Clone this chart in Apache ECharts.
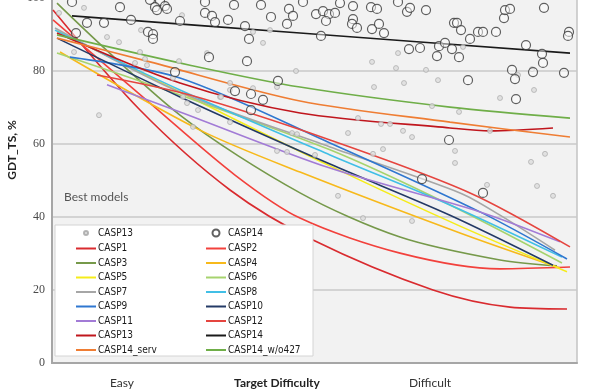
<!DOCTYPE html>
<html><head><meta charset="utf-8">
<script src="https://cdn.jsdelivr.net/npm/echarts@6/dist/echarts.min.js"></script>
<style>html,body{margin:0;padding:0;background:#fff}#c{width:600px;height:390px}</style>
</head><body><div id="c"></div>
<script>
// Y ticks
const yTicks = [0, 20, 40, 60, 80, 100];
// x: target difficulty (0 = easy, 105 = difficult); y: GDT_TS %
const casp13Pts = [[1.4,95.9],[6.4,97.3],[11,89.3],[13.4,87.9],[4.4,85.2],[9.4,67.9],[17.8,91.2],[17.6,85.2],[18.6,83.3],[19,81.6],[16.6,82.2],[26,95.3],[25.4,82.7],[24.2,78.1],[27,71.2],[31,84.9],[33.6,72.9],[35.6,76.7],[35.6,74.8],[35.6,66.0],[40.2,90.7],[40.2,75.3],[42.2,87.7],[43.6,91.2],[47,57.8],[48.8,80.0],[48,63.0],[28.2,64.7],[64,82.5],[68.8,80.8],[69.2,84.9],[70.4,76.7],[64.4,75.6],[74.8,80.3],[77.2,77.5],[76,70.4],[81.4,68.8],[82.2,86.6],[61.2,67.1],[59.2,63.0],[65.8,65.5],[67.6,65.5],[70.2,63.6],[72,61.9],[66.2,58.6],[80.6,58.1],[80.6,54.8],[52.6,57.0],[57.2,45.8],[87,48.8],[89.6,72.6],[87.6,63.6],[93.2,78.9],[96.4,74.8],[96,80.5],[95.8,55.1],[98.6,57.3],[97,48.5],[100.2,45.8],[62.2,39.7],[72,38.9],[26.2,72.9],[29.2,69.3],[33.8,72.9],[45,75.6],[45,58.1],[49,62.7],[64.2,57.3]];
const casp14Pts = [[4,98.9],[13.6,97.5],[7,93.2],[10.4,93.2],[4.8,90.4],[15.8,94.0],[19.2,90.7],[20.2,90.1],[20.2,88.8],[19.6,99.5],[21.6,99.2],[20.6,97.5],[21,96.7],[22.6,97.8],[23,97.0],[25.6,93.7],[30.6,98.9],[30.6,95.9],[32,95.1],[32.6,93.4],[31.4,83.8],[35.2,94.0],[36.4,98.1],[38.6,92.3],[39.4,88.8],[39,82.7],[41.8,98.1],[43.8,94.8],[47,92.9],[47.4,97.0],[48.2,95.1],[24.6,79.7],[36.6,74.5],[39.8,73.7],[39.8,69.3],[42.2,72.1],[45.2,77.3],[50.2,98.9],[52.8,95.6],[54.2,96.4],[55.4,95.6],[56.6,95.9],[54.8,93.7],[57.6,98.6],[60.2,97.8],[60.2,94.2],[60,92.9],[61,91.8],[64,91.5],[63.8,97.5],[65,97.0],[65.4,92.9],[66.4,90.4],[69.2,98.9],[71,96.2],[71.6,97.3],[74.8,96.7],[53.8,89.6],[71.4,86.0],[73.6,86.3],[77,84.1],[77.4,86.8],[78.6,87.7],[80,86.0],[81.4,83.8],[80.4,93.2],[81,93.2],[81.8,91.2],[83.6,88.8],[85.2,90.7],[86.2,90.7],[88.8,90.7],[90.4,94.5],[90.6,96.7],[91.6,97.0],[98.4,97.3],[94.8,87.1],[98,84.7],[98.2,82.2],[92,80.3],[92.6,77.8],[96.2,79.7],[102.4,79.5],[83.2,77.5],[92.8,72.3],[79.4,61.1],[103.4,90.7],[103.2,89.6],[74,50.4],[86.2,46.6]];

const casp1 = [[0.2,96.7],[17.6,69.3],[35.6,47.4],[52.2,33.7],[76.2,20.0],[91.6,15.3],[103,14.8]];
const casp2 = [[0.2,94.0],[19.6,71.2],[36.6,51.5],[49.6,39.7],[69.6,30.1],[89.6,25.8],[103.6,26.3]];
const casp3 = [[1,98.6],[25.6,67.9],[49.6,46.6],[69.6,34.5],[89.6,28.2],[101,26.6]];
const casp4 = [[1.6,85.2],[29.6,63.8],[49.6,52.3],[81.6,35.6],[101.6,26.0]];
const casp5 = [[1,91],[29.6,71.5],[55.6,54],[81.6,37.5],[103,25]];
const casp6 = [[1,84.9],[25.6,73.4],[55.6,58.4],[79.6,43.3],[102,27.4]];
const casp7 = [[0.6,91.8],[25.6,74.2],[55.6,59.2],[81.6,46.6],[89.6,40.5],[100.6,30.9]];
const casp8 = [[0.6,91.2],[25.6,74.8],[55.6,57.0],[79.6,43.3],[102,29.0]];
const casp9 = [[3.6,83.8],[25.6,78.1],[55.6,60.3],[85.6,41.4],[103,28.5]];
const casp10 = [[1,89.0],[25.6,72.9],[55.6,54.5],[79.6,40.5],[100.2,26.8]];
const casp11 = [[11,76.2],[25.6,68.8],[55.6,53.4],[85.6,41.4],[101.6,33.2]];
const casp12 = [[9,78.9],[27.6,73.4],[55.6,61.1],[83.6,46.6],[103.6,31.8]];
const casp13 = [[1,90.4],[25.6,76.7],[49.6,68.5],[79.6,64.4],[87.6,63.6],[100.2,64.4]];
const casp14 = [[4,95.1],[49.6,90.4],[103.6,84.9]];
const casp14serv = [[1,89.0],[19.6,82.5],[49.6,71.8],[79.6,66.0],[103.6,61.9]];
const casp14wo = [[1,89.9],[27.6,81.6],[49.6,75.6],[79.6,70.1],[103.6,67.1]];

const lineNames = ['CASP1','CASP2','CASP3','CASP4','CASP5','CASP6','CASP7','CASP8','CASP9','CASP10','CASP11','CASP12','CASP13 ','CASP14 ','CASP14_serv','CASP14_w/o427'];
const lineData = [casp1,casp2,casp3,casp4,casp5,casp6,casp7,casp8,casp9,casp10,casp11,casp12,casp13,casp14,casp14serv,casp14wo];
const lineColors = ['#d92b2f','#f2413c','#76994a','#f7b91b','#f5ec1a','#a6d36e','#a6a6a6','#41bfe6','#2f77d0','#243a66','#a27bd6','#e5453f','#c0161d','#1a1a1a','#ef7d33','#6fae48'];

const legendLeft = ['CASP13','CASP1','CASP3','CASP5','CASP7','CASP9','CASP11','CASP13 ','CASP14_serv'];
const legendRight = ['CASP14','CASP2','CASP4','CASP6','CASP8','CASP10','CASP12','CASP14 ','CASP14_w/o427'];

const dotIcon = 'path://M0,0M20,10M12,5A2,2,0,1,1,8,5A2,2,0,1,1,12,5Z';
const ringIcon = 'path://M0,0M20,10M13.5,5A3.5,3.5,0,1,1,6.5,5A3.5,3.5,0,1,1,13.5,5Z';
const hiddenSym = {color:'rgba(0,0,0,0)', borderColor:'rgba(0,0,0,0)', borderWidth:0, opacity:0};

function mkLegendData(arr){
  return arr.map(n => n === 'CASP13' ? {name:n, icon: dotIcon} : (n === 'CASP14' ? {name:n, icon: ringIcon} : {name:n, itemStyle: hiddenSym}));
}

const series = [];
lineNames.forEach((n,i) => {
  series.push({type:'line', name:n, data:lineData[i], smooth:0.3, symbol:'none',
    lineStyle:{color:lineColors[i], width:1.6}, itemStyle:{color:lineColors[i]}, z:2, silent:true});
});
series.push({type:'scatter', name:'CASP13', data:casp13Pts, symbolSize:5,
  itemStyle:{color:'#dcdcdc', borderColor:'#a3a3a3', borderWidth:0.8}, z:3});
series.push({type:'scatter', name:'CASP14', data:casp14Pts, symbolSize:9,
  itemStyle:{color:'rgba(255,255,255,0.6)', borderColor:'#3a3a3a', borderWidth:1.2}, z:4});

const legendFont = "'Liberation Sans Narrow', 'DejaVu Sans Condensed', Lato";
const legendCommon = {orient:'vertical', padding:0, itemWidth:20, itemHeight:10, itemGap:4.5, z:20,
  textStyle:{fontFamily:legendFont, fontSize:10, color:'#1a1a1a', lineHeight:10, padding:[0,0,0,-3]}};

const chart = echarts.init(document.getElementById('c'), null, {renderer:'canvas'});
chart.setOption({
  animation:false,
  backgroundColor:'#ffffff',
  grid:{left:52, right:23, top:-2, bottom:27, outerBoundsMode:'none', containLabel:false, show:true, backgroundColor:'#f2f2f2', borderColor:'#c4c4c4', borderWidth:1.5},
  xAxis:{type:'value', min:0, max:105, axisLabel:{show:false}, axisTick:{show:false}, splitLine:{show:false},
    axisLine:{show:true, lineStyle:{color:'#a6a6a6', width:2}}},
  yAxis:{type:'value', min:yTicks[0], max:yTicks[yTicks.length-1], interval:20,
    axisLabel:{fontFamily:'Liberation Serif', fontSize:12, color:'#4a4a4a', margin:7},
    axisTick:{show:false}, axisLine:{show:true, lineStyle:{color:'#a6a6a6', width:2}},
    splitLine:{lineStyle:{color:'#c9c9c9', width:1.5}}},
  legend:[
    Object.assign({}, legendCommon, {left:75, top:227, data:mkLegendData(legendLeft)}),
    Object.assign({}, legendCommon, {left:205, top:227, data:mkLegendData(legendRight)})
  ],
  graphic:[
    {type:'rect', shape:{x:55, y:225, width:258, height:131}, style:{fill:'#ffffff', stroke:'#d4d4d4', lineWidth:1}, z:10},
    {type:'text', x:64, y:197, style:{text:'Best models', fontFamily:'Lato', fontSize:12, fill:'#555', textVerticalAlign:'middle'}, z:10},
    {type:'text', x:12, y:150, rotation:Math.PI/2, style:{text:'GDT_TS, %', fontFamily:'Lato', fontWeight:'bold', fontSize:12, fill:'#222', textAlign:'center', textVerticalAlign:'middle'}, z:10},
    {type:'text', x:122, y:383, style:{text:'Easy', fontFamily:'Lato', fontSize:12, fill:'#333', textAlign:'center', textVerticalAlign:'middle'}},
    {type:'text', x:277, y:383, style:{text:'Target Difficulty', fontFamily:'Lato', fontWeight:'bold', fontSize:12, fill:'#222', textAlign:'center', textVerticalAlign:'middle'}},
    {type:'text', x:430, y:383, style:{text:'Difficult', fontFamily:'Lato', fontSize:12, fill:'#333', textAlign:'center', textVerticalAlign:'middle'}}
  ],
  series:series
});
</script></body></html>
